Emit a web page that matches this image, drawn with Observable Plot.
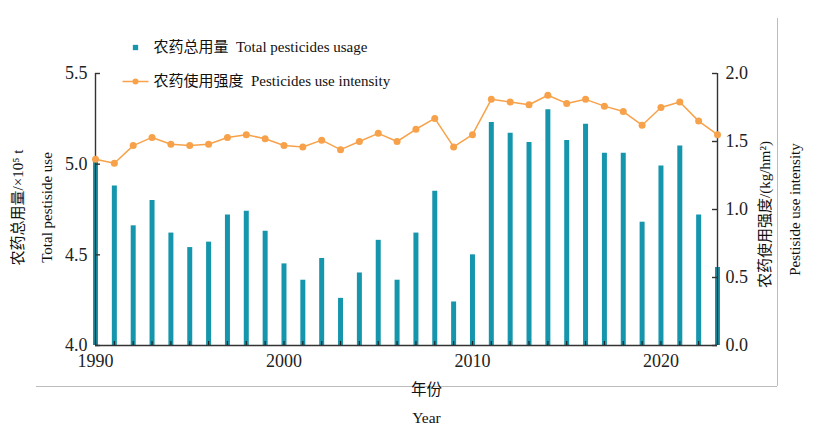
<!DOCTYPE html>
<html><head><meta charset="utf-8">
<script src="https://cdn.jsdelivr.net/npm/d3@7"></script>
<script src="https://cdn.jsdelivr.net/npm/@observablehq/plot@0.6"></script>
<style>body{margin:0;background:#fff;}</style>
</head><body><div id="chart"></div>
<script>
const years = [1990,1991,1992,1993,1994,1995,1996,1997,1998,1999,2000,2001,2002,2003,2004,2005,2006,2007,2008,2009,2010,2011,2012,2013,2014,2015,2016,2017,2018,2019,2020,2021,2022,2023];
const totalUse = [5.01,4.88,4.66,4.80,4.62,4.54,4.57,4.72,4.74,4.63,4.45,4.36,4.48,4.26,4.40,4.58,4.36,4.62,4.85,4.24,4.50,5.23,5.17,5.12,5.30,5.13,5.22,5.06,5.06,4.68,4.99,5.10,4.72,4.43];
const intensity = [1.37,1.34,1.47,1.53,1.48,1.47,1.48,1.53,1.55,1.52,1.47,1.46,1.51,1.44,1.50,1.56,1.50,1.59,1.67,1.46,1.55,1.81,1.79,1.77,1.84,1.78,1.81,1.76,1.72,1.62,1.75,1.79,1.65,1.55];
const leftTicks = [4.0,4.5,5.0,5.5];
const rightTicks = [0.0,0.5,1.0,1.5,2.0];
const xTickLabels = [1990,2000,2010,2020];
const legendLabels = ["农药总用量\u2002Total pesticides usage", "农药使用强度\u2002Pesticides use intensity"];

const teal = "#1596ad";
const orange = "#f7a24a";
const axisColor = "#333";
const serif = "'Liberation Serif','Times New Roman','Noto Sans CJK SC',serif";

// right axis (0–2) mapped onto left axis domain (4–5.5)
const toLeft = v => 4 + v * 0.75;
const fromLeft = d => (d - 4) / 0.75;

const data = years.map((year, i) => ({year, total: totalUse[i], inten: toLeft(intensity[i])}));

const lineSym = {draw(ctx) { ctx.moveTo(-13, 0); ctx.lineTo(13, 0); }};

const W = 824, H = 427, mL = 95, mR = 107, mT = 73, mB = 82;
const fw = W - mL - mR, fh = H - mT - mB;
const txt = {fontFamily: serif, fill: "#111"};

const chart = Plot.plot({
  width: W, height: H,
  marginLeft: mL, marginRight: mR, marginTop: mT, marginBottom: mB,
  style: {fontFamily: serif, color: "#222", background: "#fff"},
  x: {type: "linear", domain: [1990, 2023], axis: null},
  y: {domain: [4, 5.5], axis: null},
  marks: [
    // outer figure box (bottom and right)
    Plot.ruleY([4], {dy: 41, insetLeft: -59, insetRight: -60, stroke: "#bdbdbd", strokeWidth: 1}),
    Plot.ruleX([2023], {dx: 60, insetTop: -55, insetBottom: -41, stroke: "#bdbdbd", strokeWidth: 1}),
    // bars
    Plot.ruleX(data, {x: "year", y1: 4, y2: "total", stroke: teal, strokeWidth: 5}),
    // bottom ticks for every year
    Plot.tickX(years, {x: d => d, insetTop: fh - 4, stroke: "#222", strokeWidth: 1.2}),
    // axis lines
    Plot.ruleX([1990], {stroke: axisColor, strokeWidth: 1.4}),
    Plot.ruleX([2023], {stroke: axisColor, strokeWidth: 1.4}),
    Plot.ruleY([4], {stroke: axisColor, strokeWidth: 1.4}),
    // inward ticks
    Plot.tickY(leftTicks, {y: d => d, insetRight: fw - 5, stroke: axisColor, strokeWidth: 1.4}),
    Plot.tickY(rightTicks.map(toLeft), {y: d => d, insetLeft: fw - 5, stroke: axisColor, strokeWidth: 1.4}),
    // tick labels
    Plot.axisY({ticks: leftTicks, tickFormat: d => d.toFixed(1), tickSize: 0, tickPadding: 8, fontSize: 18, fontFamily: serif, fill: "#222", label: null, anchor: "left"}),
    Plot.axisY({ticks: rightTicks.map(toLeft), tickFormat: d => fromLeft(d).toFixed(1), tickSize: 0, tickPadding: 8, fontSize: 18, fontFamily: serif, fill: "#222", label: null, anchor: "right"}),
    Plot.axisX({ticks: xTickLabels, tickFormat: d => String(d), tickSize: 0, tickPadding: 8.5, fontSize: 18, fontFamily: serif, fill: "#222", label: null, anchor: "bottom"}),
    // intensity line
    Plot.line(data, {x: "year", y: "inten", stroke: orange, strokeWidth: 1.5}),
    Plot.dot(data, {x: "year", y: "inten", fill: orange, r: 3.5}),
    // legend
    Plot.dot([0], {frameAnchor: "top-left", dx: 40, dy: -26, symbol: "square", r: 3, fill: teal}),
    Plot.text([legendLabels[0]], {...txt, frameAnchor: "top-left", dx: 58, dy: -26, textAnchor: "start", lineAnchor: "middle", fontSize: 15}),
    Plot.dot([0], {frameAnchor: "top-left", dx: 40, dy: 8, symbol: lineSym, stroke: orange, strokeWidth: 1.5}),
    Plot.dot([0], {frameAnchor: "top-left", dx: 40, dy: 8, r: 3, fill: orange}),
    Plot.text([legendLabels[1]], {...txt, frameAnchor: "top-left", dx: 58, dy: 8, textAnchor: "start", lineAnchor: "middle", fontSize: 15}),
    // axis titles
    Plot.text(["农药总用量/×10⁵ t"], {...txt, frameAnchor: "left", textAnchor: "middle", lineAnchor: "middle", dx: -77, dy: -2, rotate: -90, fontSize: 15}),
    Plot.text(["Total pestiside use"], {...txt, frameAnchor: "left", textAnchor: "middle", lineAnchor: "middle", dx: -48, dy: -2, rotate: -90, fontSize: 15}),
    Plot.text(["农药使用强度/(kg/hm²)"], {...txt, frameAnchor: "right", textAnchor: "middle", lineAnchor: "middle", dx: 48, dy: 5, rotate: -90, fontSize: 15}),
    Plot.text(["Pestiside use intensity"], {...txt, frameAnchor: "right", textAnchor: "middle", lineAnchor: "middle", dx: 78, dy: 0, rotate: -90, fontSize: 15}),
    Plot.text(["年份"], {...txt, frameAnchor: "bottom", textAnchor: "middle", lineAnchor: "middle", dx: 20, dy: 45, fontSize: 15.5}),
    Plot.text(["Year"], {...txt, frameAnchor: "bottom", textAnchor: "middle", lineAnchor: "middle", dx: 20, dy: 73, fontSize: 15.5})
  ]
});
document.getElementById("chart").append(chart);
</script>
</body></html>
